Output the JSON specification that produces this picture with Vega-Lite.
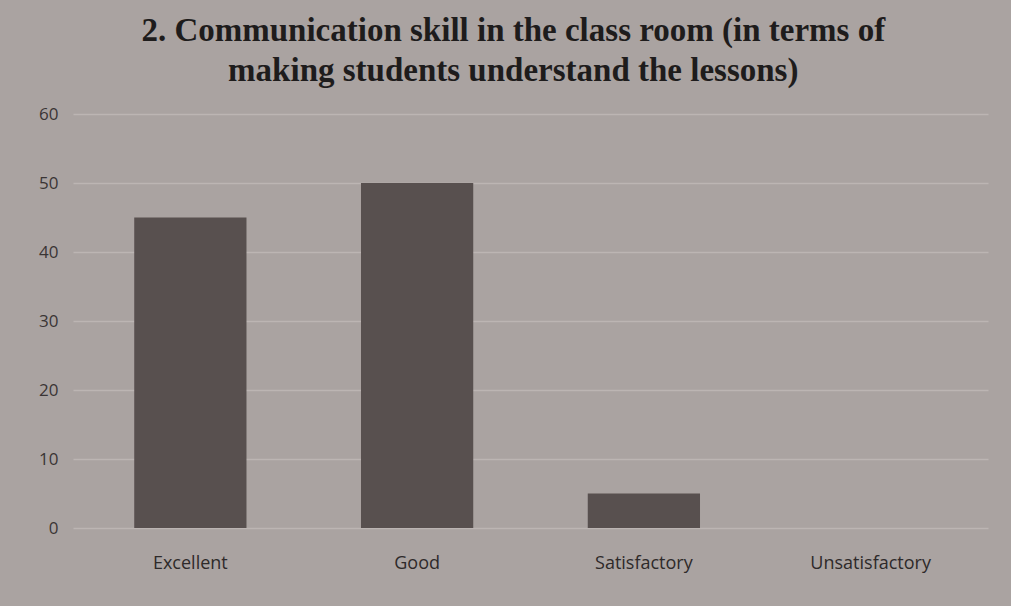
{
  "$schema": "https://vega.github.io/schema/vega-lite/v6.json",
  "width": 1011,
  "height": 606,
  "autosize": {"type": "fit", "contains": "padding"},
  "padding": {"left": 38, "right": 23, "top": 15, "bottom": 34},
  "background": "#aaa3a1",
  "title": {
    "text": ["2. Communication skill in the class room (in terms of", "making students understand the lessons)"],
    "font": "Liberation Serif",
    "fontWeight": "bold",
    "fontSize": 33,
    "color": "#1e1c1c",
    "lineHeight": 40,
    "anchor": "middle",
    "frame": "bounds",
    "offset": 17
  },
  "data": {
    "values": [
      {"rating": "Excellent", "count": 45},
      {"rating": "Good", "count": 50},
      {"rating": "Satisfactory", "count": 5},
      {"rating": "Unsatisfactory", "count": 0}
    ]
  },
  "mark": {"type": "bar", "color": "#58504f"},
  "encoding": {
    "x": {
      "field": "rating",
      "type": "nominal",
      "sort": null,
      "scale": {"paddingInner": 0.505, "paddingOuter": 0.27},
      "axis": {
        "title": null,
        "labelAngle": 0,
        "labelFont": "Open Sans",
        "labelFontSize": 18,
        "labelColor": "#2e2a2a",
        "labelPadding": 26,
        "domain": false,
        "ticks": false
      }
    },
    "y": {
      "field": "count",
      "type": "quantitative",
      "scale": {"domain": [0, 60]},
      "axis": {
        "title": null,
        "values": [0, 10, 20, 30, 40, 50, 60],
        "labelFont": "Open Sans",
        "labelFontSize": 17,
        "labelColor": "#3a3535",
        "labelPadding": 15,
        "domain": false,
        "ticks": false,
        "gridColor": "#bcb5b3",
        "gridWidth": 1.5
      }
    }
  },
  "config": {"view": {"stroke": null}}
}
